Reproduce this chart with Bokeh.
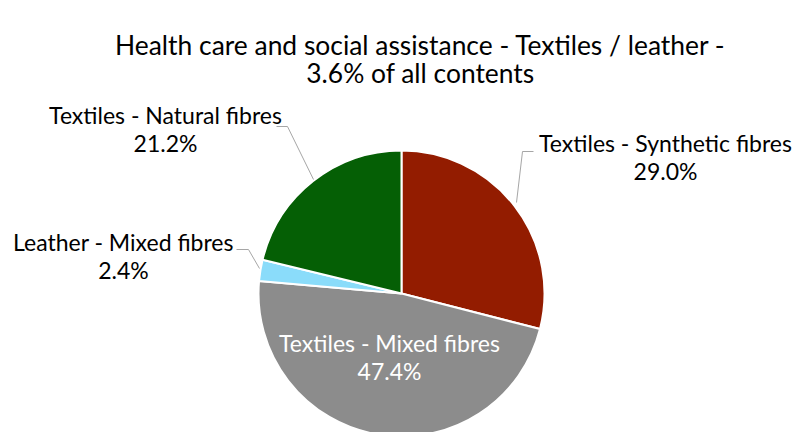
import math
from bokeh.plotting import figure
from bokeh.models import Range1d, Label
from bokeh.embed import file_html
from bokeh.resources import INLINE

# ---- data ----
categories = ["Textiles - Synthetic fibres", "Textiles - Mixed fibres",
              "Leather - Mixed fibres", "Textiles - Natural fibres"]
values = [29.0, 47.4, 2.4, 21.2]
colors = ["#931C00", "#8C8C8C", "#8ADCFA", "#055F05"]
title_lines = ["Health care and social assistance - Textiles / leather -",
               "3.6% of all contents"]

FONT = "Lato"
W, H = 795, 432
IMG_H = 432

def Y(py):
    return IMG_H - py

p = figure(width=W, height=H, output_backend="svg", toolbar_location=None,
           x_range=Range1d(0, W), y_range=Range1d(Y(H), Y(0)),
           min_border=0, outline_line_color=None)
p.axis.visible = False
p.grid.visible = False
p.background_fill_color = "white"
p.border_fill_color = "white"

cx, cy, r = 401, Y(293), 143
total = sum(values)
cum = 0.0
for v, c in zip(values, colors):
    a0 = math.pi / 2 - 2 * math.pi * cum / total
    cum += v
    a1 = math.pi / 2 - 2 * math.pi * cum / total
    p.wedge(x=[cx], y=[cy], radius=r, start_angle=a0, end_angle=a1,
            direction="clock", fill_color=c, line_color="white", line_width=2)

# title
for i, t in enumerate(title_lines):
    p.add_layout(Label(x=420, y=Y(44 + 28.5 * i), text=t, text_align="center",
                       text_baseline="middle", text_font=FONT,
                       text_font_size="26.4px", text_color="#000000"))

# label layout: (center x, y of first line, text color)
label_pos = [(665, 142, "#000000"), (389, 342, "#FFFFFF"),
             (123, 241, "#000000"), (165, 114, "#000000")]
for cat, v, (lx, ly, tc) in zip(categories, values, label_pos):
    for j, t in enumerate([cat, f"{v:.1f}%"]):
        p.add_layout(Label(x=lx, y=Y(ly + 28.5 * j), text=t, text_align="center",
                           text_baseline="middle", text_font=FONT,
                           text_font_size="23px", text_color=tc))

# leader lines
leaders = [
    [(533, 151), (522, 151), (516, 202)],
    [(236, 249), (248, 249), (259, 268)],
    [(276, 126), (287, 126), (313, 179)],
]
for pts in leaders:
    p.line([q[0] for q in pts], [Y(q[1]) for q in pts], line_color="#A6A6A6",
           line_width=1)

open("out.html", "w").write(file_html(p, INLINE))
